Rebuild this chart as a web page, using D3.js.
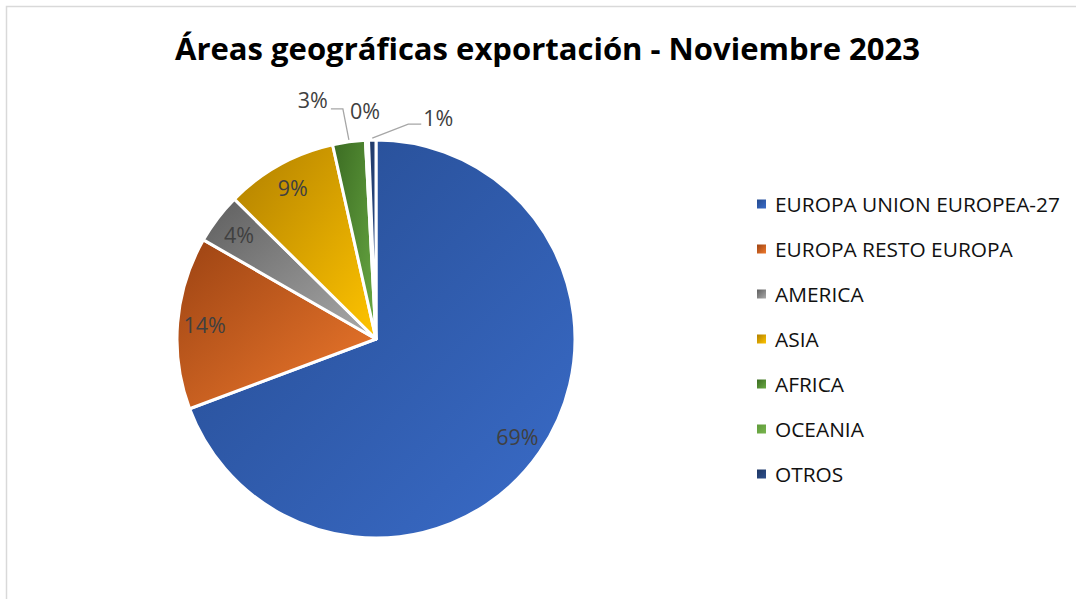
<!DOCTYPE html>
<html>
<head>
<meta charset="utf-8">
<script src="https://cdn.jsdelivr.net/npm/d3@7"></script>
<style>
  html, body { margin: 0; padding: 0; background: #fff; }
  svg { display: block; }
  text { font-family: "Open Sans", "Noto Sans", "Liberation Sans", sans-serif; }
</style>
</head>
<body>
<svg id="chart"></svg>
<script>
// data
const categories = ["EUROPA UNION EUROPEA-27", "EUROPA RESTO EUROPA", "AMERICA", "ASIA", "AFRICA", "OCEANIA", "OTROS"];
const shares = [69.3, 14.0, 4.1, 9.1, 2.65, 0.25, 0.6];
const titleText = "Áreas geográficas exportación - Noviembre 2023";

// colours: [dark top-left, light bottom-right]
const colors = [
    ["#254a8e", "#3a6cc9"],
    ["#9c4313", "#f07a2d"],
    ["#5e5e5e", "#ababab"],
    ["#b07f00", "#ffc400"],
    ["#3b6b22", "#6aab44"],
    ["#5f9a3a", "#78b54e"],
    ["#1d3562", "#2f518d"]
];

const WIDTH = 1076;
const HEIGHT = 599;
const CENTER = { x: 376, y: 339 };
const RADIUS = 199;
const LABEL_R = 172;

// outside labels, offsets from the slice's outer edge point
const OUTSIDE = {
    4: { elbow: [-6, -33], end: [-18, -33], text: [-21, -34], anchor: "end" },
    5: { text: [-2, -21], anchor: "middle" },
    6: { elbow: [36, -16], end: [49, -16], text: [51, -14], anchor: "start" }
};

const svg = d3.select("#chart")
    .attr("width", WIDTH)
    .attr("height", HEIGHT);

// chart frame
svg.append("rect")
    .attr("x", 6.5).attr("y", 6.5)
    .attr("width", WIDTH + 50).attr("height", HEIGHT + 50)
    .attr("fill", "none")
    .attr("stroke", "#d9d9d9")
    .attr("stroke-width", 1.5);

const defs = svg.append("defs");
colors.forEach((c, i) => {
    const g = defs.append("linearGradient")
        .attr("id", "grad" + i)
        .attr("x1", 0).attr("y1", 0).attr("x2", 1).attr("y2", 1);
    g.append("stop").attr("offset", "0%").attr("stop-color", c[0]);
    g.append("stop").attr("offset", "100%").attr("stop-color", c[1]);
});

// title
svg.append("text")
    .attr("x", 547.5)
    .attr("y", 60)
    .attr("text-anchor", "middle")
    .attr("font-size", 31)
    .attr("font-weight", "bold")
    .attr("fill", "#000")
    .attr("textLength", 745)
    .attr("lengthAdjust", "spacingAndGlyphs")
    .text(titleText);

// pie
const pie = d3.pie().sort(null).value(d => d);
const arcs = pie(shares);
const arc = d3.arc().innerRadius(0).outerRadius(RADIUS);
const labelArc = d3.arc().innerRadius(LABEL_R).outerRadius(LABEL_R);
const edgeArc = d3.arc().innerRadius(RADIUS).outerRadius(RADIUS);

const chart = svg.append("g")
    .attr("transform", `translate(${CENTER.x},${CENTER.y})`);

chart.selectAll(".slice")
    .data(arcs)
    .enter()
    .append("path")
    .attr("class", "slice")
    .attr("d", arc)
    .attr("fill", (d, i) => `url(#grad${i})`)
    .attr("stroke", "#fff")
    .attr("stroke-width", 3)
    .attr("stroke-linejoin", "round");

// data labels
arcs.forEach((d, i) => {
    const txt = Math.round(d.data) + "%";
    const out = OUTSIDE[i];
    if (!out) {
        const [x, y] = labelArc.centroid(d);
        chart.append("text")
            .attr("x", x).attr("y", y)
            .attr("dy", "0.36em")
            .attr("text-anchor", "middle")
            .attr("font-size", 21.5)
            .attr("fill", "#404040")
            .text(txt);
        return;
    }
    const [ex, ey] = edgeArc.centroid(d);
    if (out.elbow) {
        chart.append("polyline")
            .attr("points", [[ex, ey - 2], [ex + out.elbow[0], ey + out.elbow[1]], [ex + out.end[0], ey + out.end[1]]].map(p => p.join(",")).join(" "))
            .attr("fill", "none")
            .attr("stroke", "#a6a6a6")
            .attr("stroke-width", 1.3);
    }
    chart.append("text")
        .attr("x", ex + out.text[0])
        .attr("y", ey + out.text[1])
        .attr("text-anchor", out.anchor)
        .attr("font-size", 21.5)
        .attr("fill", "#404040")
        .text(txt);
});

// legend
const legend = svg.append("g")
    .attr("transform", "translate(757,204)");

const items = legend.selectAll(".item")
    .data(categories)
    .enter()
    .append("g")
    .attr("class", "item")
    .attr("transform", (d, i) => `translate(0,${i * 45})`);

items.append("rect")
    .attr("x", 0).attr("y", -4.5)
    .attr("width", 9).attr("height", 9)
    .attr("fill", (d, i) => `url(#grad${i})`);

const legendText = items.append("text")
    .attr("x", 18)
    .attr("y", 7.5)
    .attr("font-size", 20)
    .attr("fill", "#111")
    .text(d => d);

// scale legend font so the longest entry ends where it does in the original
const w0 = legendText.nodes()[0].getComputedTextLength();
const fs = 20 * 285 / w0;
legendText.attr("font-size", Math.min(fs, 22));
</script>
</body>
</html>
